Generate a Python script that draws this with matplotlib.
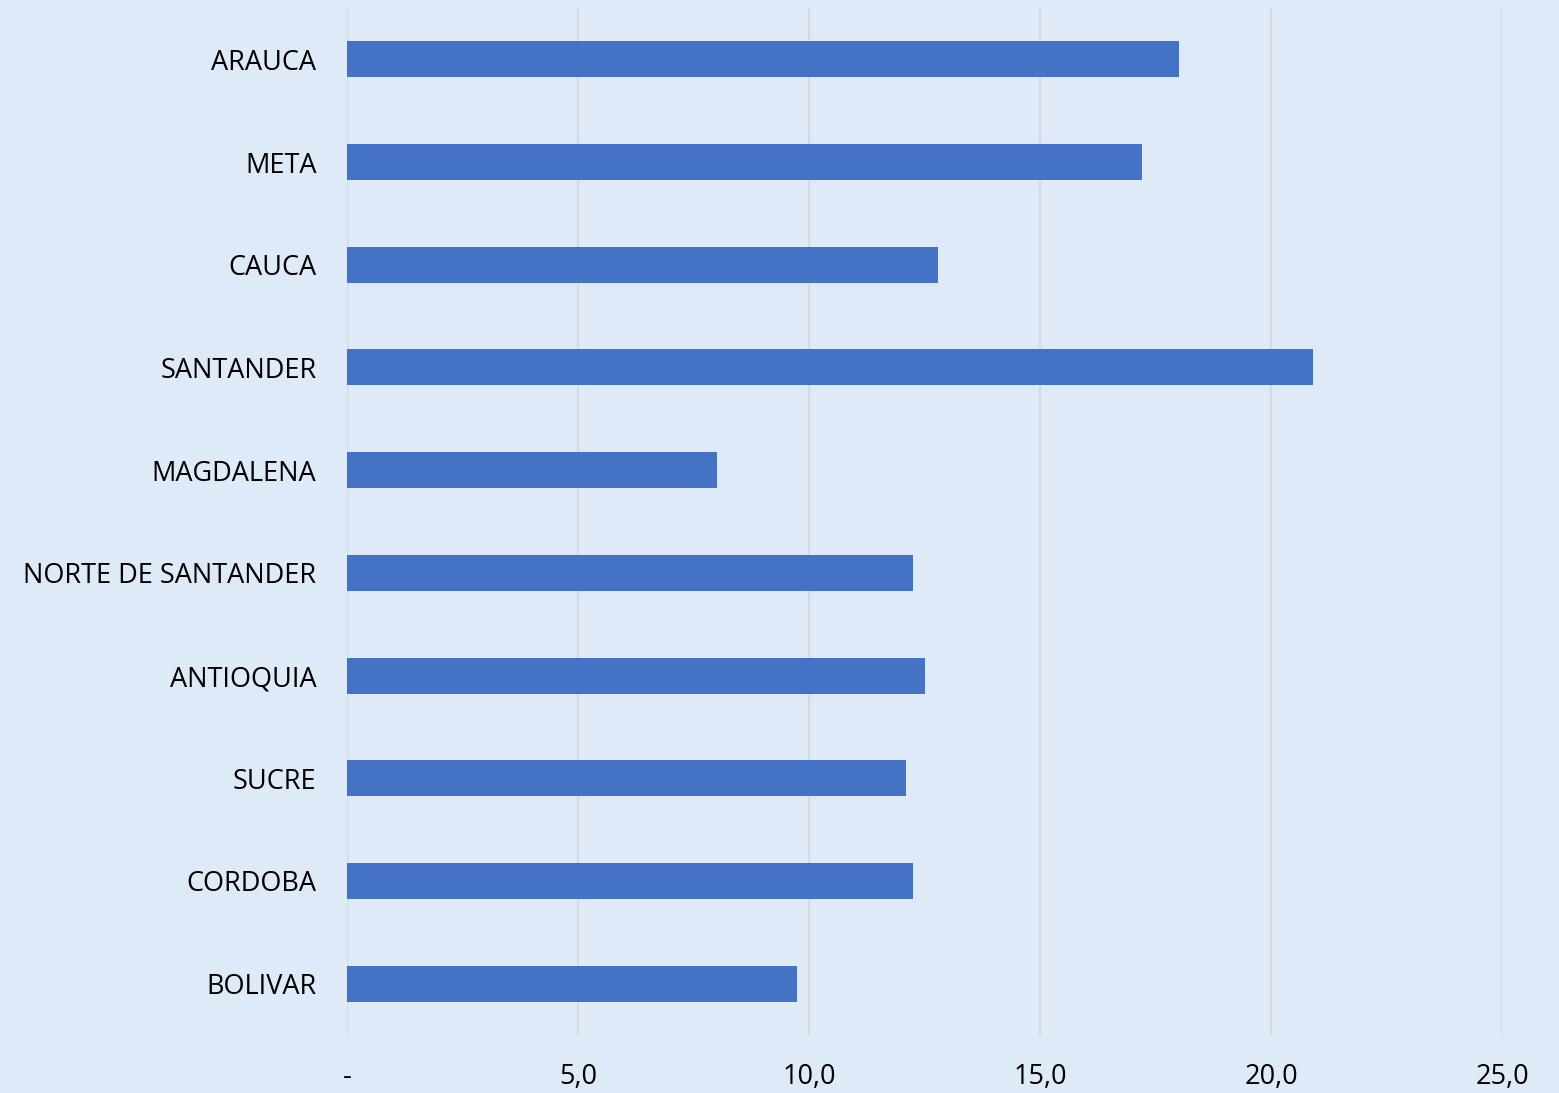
import matplotlib
matplotlib.use("Agg")
import matplotlib.pyplot as plt
from matplotlib.ticker import FuncFormatter

departamentos = ["ARAUCA", "META", "CAUCA", "SANTANDER", "MAGDALENA",
                 "NORTE DE SANTANDER", "ANTIOQUIA", "SUCRE", "CORDOBA", "BOLIVAR"]
valores = [18.0, 17.2, 12.8, 20.9, 8.0, 12.25, 12.5, 12.1, 12.25, 9.75]
x_ticks = [0, 5, 10, 15, 20, 25]

bg = "#DFEAF9"
plt.rcParams["font.family"] = ["Open Sans", "DejaVu Sans"]

fig = plt.figure(figsize=(15.59, 10.93), dpi=100, facecolor=bg)
ax = fig.add_axes([347 / 1559, 1 - 1035 / 1093, (1502 - 347) / 1559, (1035 - 8) / 1093])
ax.set_facecolor(bg)

pos = list(range(len(departamentos)))
ax.barh(pos, valores, height=0.35, color="#4472C4", zorder=3)

ax.set_xlim(0, 25)
ax.set_ylim(len(departamentos) - 0.5, -0.5)
ax.set_xticks(x_ticks)
ax.xaxis.set_major_formatter(FuncFormatter(
    lambda v, p: "-" if v == 0 else ("%.1f" % v).replace(".", ",")))
ax.set_yticks(pos)
ax.set_yticklabels(departamentos, va="center_baseline")

ax.grid(axis="x", color="#D9D9D9", linewidth=1.5, zorder=0)
for s in ax.spines.values():
    s.set_visible(False)
ax.tick_params(axis="both", length=0, labelsize=19.5, colors="black")
ax.tick_params(axis="y", pad=22)
ax.tick_params(axis="x", pad=20)

fig.savefig("out.png", dpi=100, facecolor=bg)
